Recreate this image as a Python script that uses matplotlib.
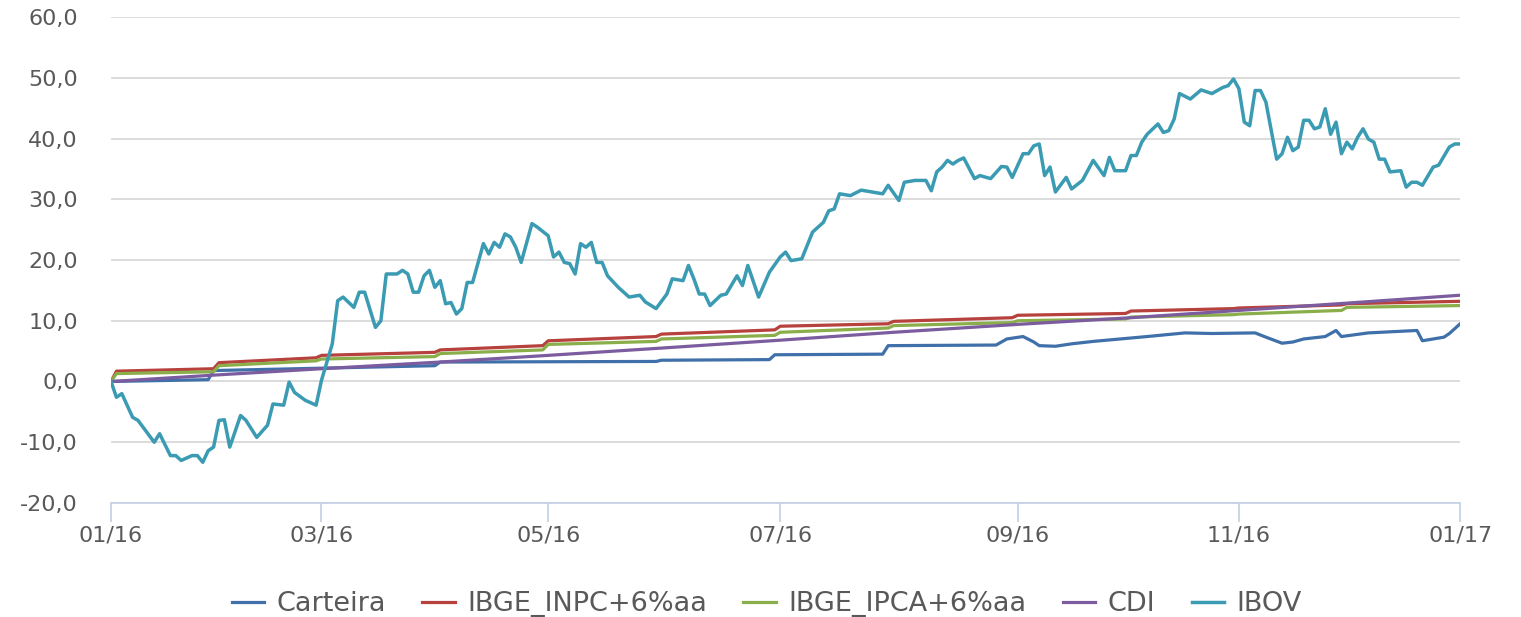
import matplotlib
matplotlib.use("Agg")
import matplotlib.pyplot as plt
from matplotlib.ticker import FuncFormatter

# x = trading day of 2016 (0 = start of Jan, 250 = start of Jan/17)
tick_days   = [0, 39, 81, 124, 168, 209, 250]
tick_labels = ["01/16", "03/16", "05/16", "07/16", "09/16", "11/16", "01/17"]

carteira_x = [0, 18, 19, 60, 61, 101, 102, 122, 123, 143, 144, 164, 166, 169, 171, 172,
              175, 178, 182, 187, 192, 199, 204, 212, 214, 217, 219, 221, 225, 227, 228,
              233, 242, 243, 247, 248, 250]
carteira_y = [0.0, 0.3, 1.8, 2.6, 3.2, 3.3, 3.5, 3.6, 4.4, 4.5, 5.9, 6.0, 7.0, 7.4, 6.5, 5.9,
              5.8, 6.2, 6.6, 7.0, 7.4, 8.0, 7.9, 8.0, 7.3, 6.3, 6.5, 7.0, 7.4, 8.4, 7.4,
              8.0, 8.4, 6.7, 7.3, 7.9, 9.5]

bench_x = [0, 1, 19, 20, 38, 39, 60, 61, 80, 81, 101, 102, 123, 124, 144, 145,
           167, 168, 188, 189, 208, 209, 228, 229, 250]
inpc_y  = [0.0, 1.7, 2.1, 3.1, 3.9, 4.3, 4.8, 5.2, 5.9, 6.7, 7.4, 7.8, 8.5, 9.1, 9.5, 9.9,
           10.5, 10.9, 11.2, 11.6, 12.0, 12.1, 12.6, 12.8, 13.2]
ipca_y  = [0.0, 1.3, 1.6, 2.6, 3.4, 3.7, 4.1, 4.6, 5.2, 6.1, 6.6, 7.0, 7.6, 8.1, 8.8, 9.2,
           9.7, 10.0, 10.3, 10.6, 11.0, 11.1, 11.7, 12.2, 12.5]

cdi_x = [0, 20, 39, 61, 81, 102, 124, 145, 168, 189, 209, 229, 250]
cdi_y = [0.0, 1.1, 2.1, 3.2, 4.3, 5.5, 6.8, 8.1, 9.4, 10.5, 11.7, 12.9, 14.2]

ibov_x = [0, 1, 2, 4, 5, 8, 9, 11, 12, 13, 15, 16, 17, 18, 19, 20, 21, 22, 24, 25,
          27, 29, 30, 32, 33, 34, 36, 38, 39, 41, 42, 43, 45, 46, 47, 49, 50, 51, 53, 54,
          55, 56, 57, 58, 59, 60, 61, 62, 63, 64, 65, 66, 67, 69, 70, 71, 72, 73, 74, 75,
          76, 78, 79, 81, 82, 83, 84, 85, 86, 87, 88, 89, 90, 91, 92, 94, 96, 98, 99, 101,
          103, 104, 106, 107, 108, 109, 110, 111, 113, 114, 116, 117, 118, 120, 122, 124, 125, 126, 128, 130,
          132, 133, 134, 135, 137, 139, 141, 143, 144, 146, 147, 149, 151, 152, 153, 154, 155, 156, 157, 158,
          160, 161, 163, 165, 166, 167, 169, 170, 171, 172, 173, 174, 175, 177, 178, 180, 182, 184, 185, 186,
          188, 189, 190, 191, 192, 194, 195, 196, 197, 198, 200, 202, 204, 206, 207, 208, 209, 210, 211, 212,
          213, 214, 216, 217, 218, 219, 220, 221, 222, 223, 224, 225, 226, 227, 228, 229, 230, 231, 232, 233,
          234, 235, 236, 237, 239, 240, 241, 242, 243, 245, 246, 248, 249, 250]
ibov_y = [0.0, -2.6, -2.0, -5.9, -6.4, -10.0, -8.6, -12.2, -12.2, -13.0, -12.2, -12.2, -13.3, -11.4, -10.8, -6.4, -6.3, -10.8, -5.6, -6.4,
          -9.2, -7.2, -3.7, -3.9, -0.1, -1.8, -3.1, -3.9, 0.2, 6.2, 13.3, 13.9, 12.2, 14.7, 14.7, 8.9, 10.0, 17.7, 17.7, 18.3,
          17.7, 14.7, 14.7, 17.4, 18.3, 15.5, 16.6, 12.8, 13.0, 11.1, 12.0, 16.3, 16.3, 22.7, 21.0, 22.9, 22.1, 24.3, 23.8, 22.1,
          19.6, 26.0, 25.4, 24.0, 20.5, 21.3, 19.6, 19.4, 17.7, 22.7, 22.1, 22.9, 19.6, 19.6, 17.4, 15.5, 13.9, 14.2, 13.1, 12.0,
          14.4, 16.9, 16.6, 19.1, 16.9, 14.4, 14.4, 12.5, 14.2, 14.4, 17.4, 15.8, 19.1, 13.9, 18.0, 20.5, 21.3, 19.9, 20.2, 24.6,
          26.2, 28.1, 28.4, 30.9, 30.6, 31.5, 31.2, 30.9, 32.3, 29.8, 32.8, 33.1, 33.1, 31.4, 34.5, 35.3, 36.4, 35.8, 36.4, 36.8,
          33.4, 33.9, 33.4, 35.4, 35.3, 33.6, 37.5, 37.5, 38.8, 39.1, 33.9, 35.3, 31.2, 33.6, 31.7, 33.1, 36.4, 33.9, 36.9, 34.7,
          34.7, 37.2, 37.2, 39.4, 40.7, 42.4, 41.0, 41.3, 43.2, 47.4, 46.5, 48.0, 47.4, 48.4, 48.7, 49.8, 48.2, 42.7, 42.1, 47.9,
          47.9, 46.0, 36.6, 37.5, 40.2, 38.0, 38.6, 43.0, 43.0, 41.6, 41.9, 44.9, 40.7, 42.7, 37.5, 39.4, 38.3, 40.2, 41.6, 39.9,
          39.4, 36.6, 36.6, 34.5, 34.7, 32.0, 32.8, 32.8, 32.3, 35.3, 35.6, 38.6, 39.1, 39.1]

names  = ["Carteira", "IBGE_INPC+6%aa", "IBGE_IPCA+6%aa", "CDI", "IBOV"]
colors = ["#3f70a9", "#b7413d", "#8aae4a", "#7b5c9f", "#3a9bb3"]

fig = plt.figure(figsize=(15.21, 6.17), dpi=100)
ax = fig.add_axes([0.073, 0.1848, 0.887, 0.7876])

series = [(carteira_x, carteira_y), (bench_x, inpc_y), (bench_x, ipca_y),
          (cdi_x, cdi_y), (ibov_x, ibov_y)]
for (xs, ys), name, c in zip(series, names, colors):
    lw = 2.5 if name == "IBOV" else 2.3
    ax.plot(xs, ys, color=c, lw=lw, label=name, solid_joinstyle="round")

ax.set_xlim(0, 250)
ax.set_ylim(-20, 60)
ax.set_yticks(range(-20, 61, 10))
ax.yaxis.set_major_formatter(FuncFormatter(lambda v, p: f"{v:.1f}".replace(".", ",")))
ax.set_xticks(tick_days)
ax.set_xticklabels(tick_labels)

ax.grid(axis="y", color="#d9d9d9", lw=1.3)
ax.set_axisbelow(True)
for s in ["left", "right", "top"]:
    ax.spines[s].set_visible(False)
ax.spines["bottom"].set_color("#c5d3e6")
ax.spines["bottom"].set_linewidth(1.3)

ax.tick_params(axis="y", length=0, pad=24, labelsize=16, labelcolor="#595959")
ax.tick_params(axis="x", length=14, width=1.3, color="#c5d3e6", pad=2,
               labelsize=16, labelcolor="#595959")

fig.legend(loc="center", bbox_to_anchor=(0.504, 0.021), ncol=5, frameon=False,
           fontsize=19.5, labelcolor="#595959", handlelength=1.2, handletextpad=0.45,
           columnspacing=1.35)

fig.savefig("out.png", dpi=100)
